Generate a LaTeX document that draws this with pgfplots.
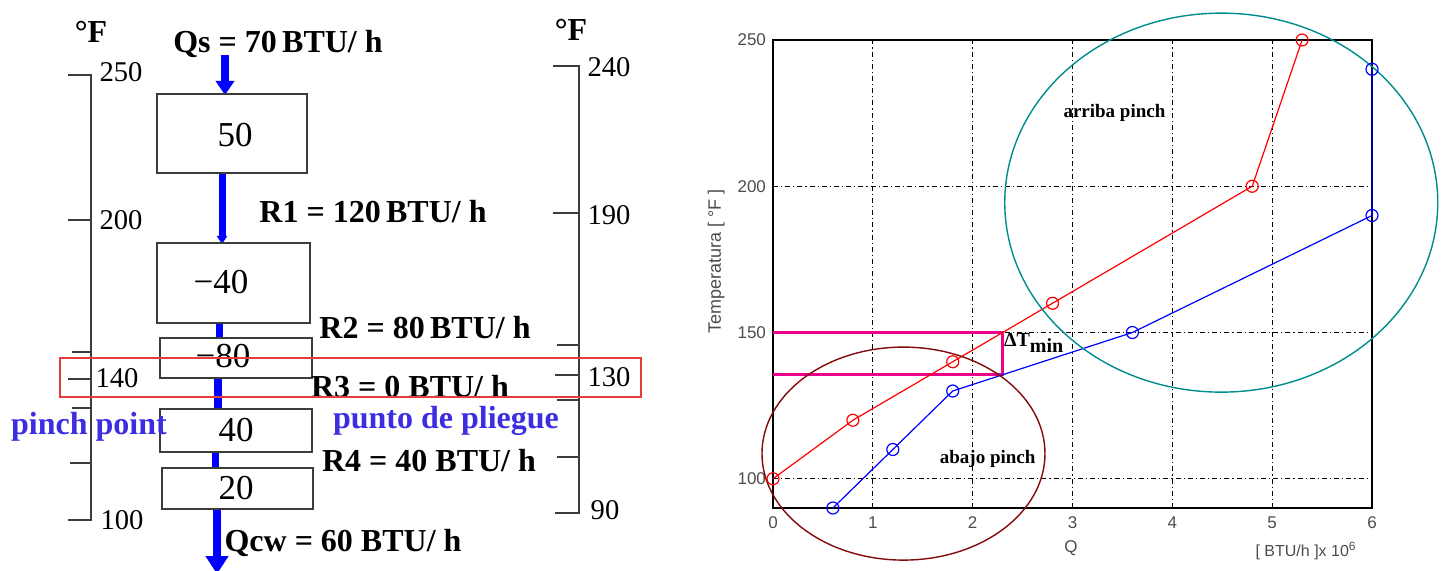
\documentclass[border=0pt]{standalone}
\usepackage{pgfplots}
\pgfplotsset{compat=1.18}
\usepackage{pgfplotstable}
\usepackage{fontspec}
\setmainfont{Liberation Serif}
\newfontfamily\sans{Liberation Sans}
\usetikzlibrary{arrows.meta}
\definecolor{pinchblue}{RGB}{60,45,225}
\definecolor{tealc}{RGB}{0,140,140}
\definecolor{brownc}{RGB}{130,10,10}
\definecolor{boxgray}{RGB}{60,60,60}
\definecolor{rectred}{RGB}{230,60,60}
\pgfplotstableread{
q T
0 100
0.8 120
1.8 140
2.8 160
4.8 200
5.3 250
}\hot
\pgfplotstableread{
q T
0.6 90
1.2 110
1.8 130
3.6 150
6 190
6 240
}\cold
\newcommand{\blf}{\fontsize{16}{16}\selectfont\bfseries}
\newcommand{\scf}{\fontsize{14.3}{14.3}\selectfont}
\newcommand{\bxf}{\fontsize{17.5}{17.5}\selectfont}
\begin{document}
\begin{tikzpicture}
\useasboundingbox (0,0) rectangle (721.5pt,-285.5pt);
\begin{scope}[x=0.5pt,y=-0.5pt]
% left temperature scale
\draw[boxgray, line width=1pt] (68,75) -- (91,75) -- (91,520) -- (68,520);
\foreach \yy/\xx in {220/68,352/72,379/68,408/72,463/70}{\draw[boxgray, line width=1pt] (\xx,\yy) -- (91,\yy);}
\node[font=\fontsize{16}{16}\selectfont\bfseries] at (91,32) {°F};
\node[font=\scf] at (121,72) {250};
\node[font=\scf] at (121,220) {200};
\node[font=\scf] at (117,378) {140};
\node[font=\scf] at (122,520) {100};
% right temperature scale
\draw[boxgray, line width=1pt] (553,66) -- (579,66) -- (579,513) -- (555,513);
\foreach \yy/\xx in {213/553,345/557,375/555,400/557,457/557}{\draw[boxgray, line width=1pt] (\xx,\yy) -- (579,\yy);}
\node[font=\fontsize{16}{16}\selectfont\bfseries] at (571,30) {°F};
\node[font=\scf] at (609,67) {240};
\node[font=\scf] at (609,215) {190};
\node[font=\scf] at (609,377) {130};
\node[font=\scf] at (605,510) {90};
% arrows
\draw[blue, line width=4pt, -{Triangle[width=9pt,length=7pt]}] (225,55) -- (225,95);
\draw[blue, line width=3.5pt, -{Triangle[width=5pt,length=4pt]}] (222,173) -- (222,244);
\draw[blue, line width=3.5pt] (219,323) -- (219,338);
\draw[blue, line width=4pt] (218,378) -- (218,409);
\draw[blue, line width=3.5pt] (215,452) -- (215,468);
\draw[blue, line width=4pt, -{Triangle[width=11pt,length=9pt]}] (217,509) -- (217,574);
% boxes
\draw[boxgray, line width=1pt, fill=white] (157,94) rectangle (307,173);
\draw[boxgray, line width=1pt, fill=white] (157,243) rectangle (310,323);
\draw[boxgray, line width=1pt, fill=white] (160,338) rectangle (312,378);
\draw[boxgray, line width=1pt, fill=white] (160,409) rectangle (312,452);
\draw[boxgray, line width=1pt, fill=white] (162,468) rectangle (313,509);
\node[font=\bxf] at (235,135) {50};
\node[font=\bxf] at (221,282) {−40};
\node[font=\bxf] at (223,356) {−80};
\node[font=\bxf] at (236,430) {40};
\node[font=\bxf] at (236,488) {20};
% heat flow labels
\node[font=\blf] at (278,44) {Qs = 70\,BTU/ h};
\node[font=\blf] at (373,212) {R1 = 120\,BTU/ h};
\node[font=\blf] at (425,328) {R2 = 80\,BTU/ h};
\node[font=\blf] at (410,387) {R3 = 0 BTU/ h};
\node[font=\blf] at (429,461) {R4 = 40 BTU/ h};
\node[font=\blf] at (343,543) {Qcw = 60 BTU/ h};
\node[font=\blf, text=pinchblue] at (89,427) {pinch point};
\node[font=\blf, text=pinchblue] at (446,421) {punto de pliegue};
% pinch rectangle
\draw[rectred, line width=0.7pt] (60,358) rectangle (641,397);
\end{scope}
\begin{axis}[
  at={(386.5pt,-254pt)}, anchor=south west,
  scale only axis, width=299.5pt, height=234pt,
  xmin=0, xmax=6, ymin=90, ymax=250,
  xtick={0,1,2,3,4,5,6}, ytick={100,150,200,250},
  grid=major,
  major grid style={black, line width=0.5pt, dash pattern=on 2.5pt off 1.5pt on 0.6pt off 1.5pt},
  axis line style={black, line width=0.7pt},
  major tick length=0pt,
  /pgf/number format/assume math mode=true,
  tick label style={font=\sans\fontsize{8.5}{8.5}\selectfont, text=black!70},
  xticklabel style={yshift=-1pt},
  clip=false,
]
\addplot[magenta, line width=1.5pt] coordinates {(0,150) (2.3,150) (2.3,135.5) (0,135.5)};
\addplot[red, line width=0.6pt, mark=o, mark size=3pt, mark options={solid}] table[x=q,y=T] {\hot};
\addplot[blue, line width=0.6pt, mark=o, mark size=3pt, mark options={solid}] table[x=q,y=T] {\cold};
\draw[tealc, line width=0.7pt] (axis cs:4.49,194.4) ellipse [x radius=108.25pt, y radius=94.75pt];
\draw[brownc, line width=0.7pt] (axis cs:1.307,108.6) ellipse [x radius=70.75pt, y radius=53.25pt];
\node[font=\fontsize{9.5}{9.5}\selectfont\bfseries] at (axis cs:3.42,225) {arriba pinch};
\node[font=\fontsize{9.5}{9.5}\selectfont\bfseries] at (axis cs:2.15,106.8) {abajo pinch};
\node[anchor=west, inner sep=0pt, font=\fontsize{10}{10}\selectfont\bfseries] at (axis cs:2.31,146.5) {ΔT\raisebox{-3pt}{min}};
\node[rotate=90, font=\sans\fontsize{9}{9}\selectfont, text=black!70] at (rel axis cs:-0.095,0.526) {Temperatura [ °F ]};
\node[font=\sans\fontsize{8.5}{8.5}\selectfont, text=black!70] at (rel axis cs:0.4975,-0.085) {Q};
\node[font=\sans\fontsize{8}{8}\selectfont, text=black!70] at (rel axis cs:0.89,-0.092) {[ BTU/h ]x 10\textsuperscript{6}};
\end{axis}
\end{tikzpicture}
\end{document}
